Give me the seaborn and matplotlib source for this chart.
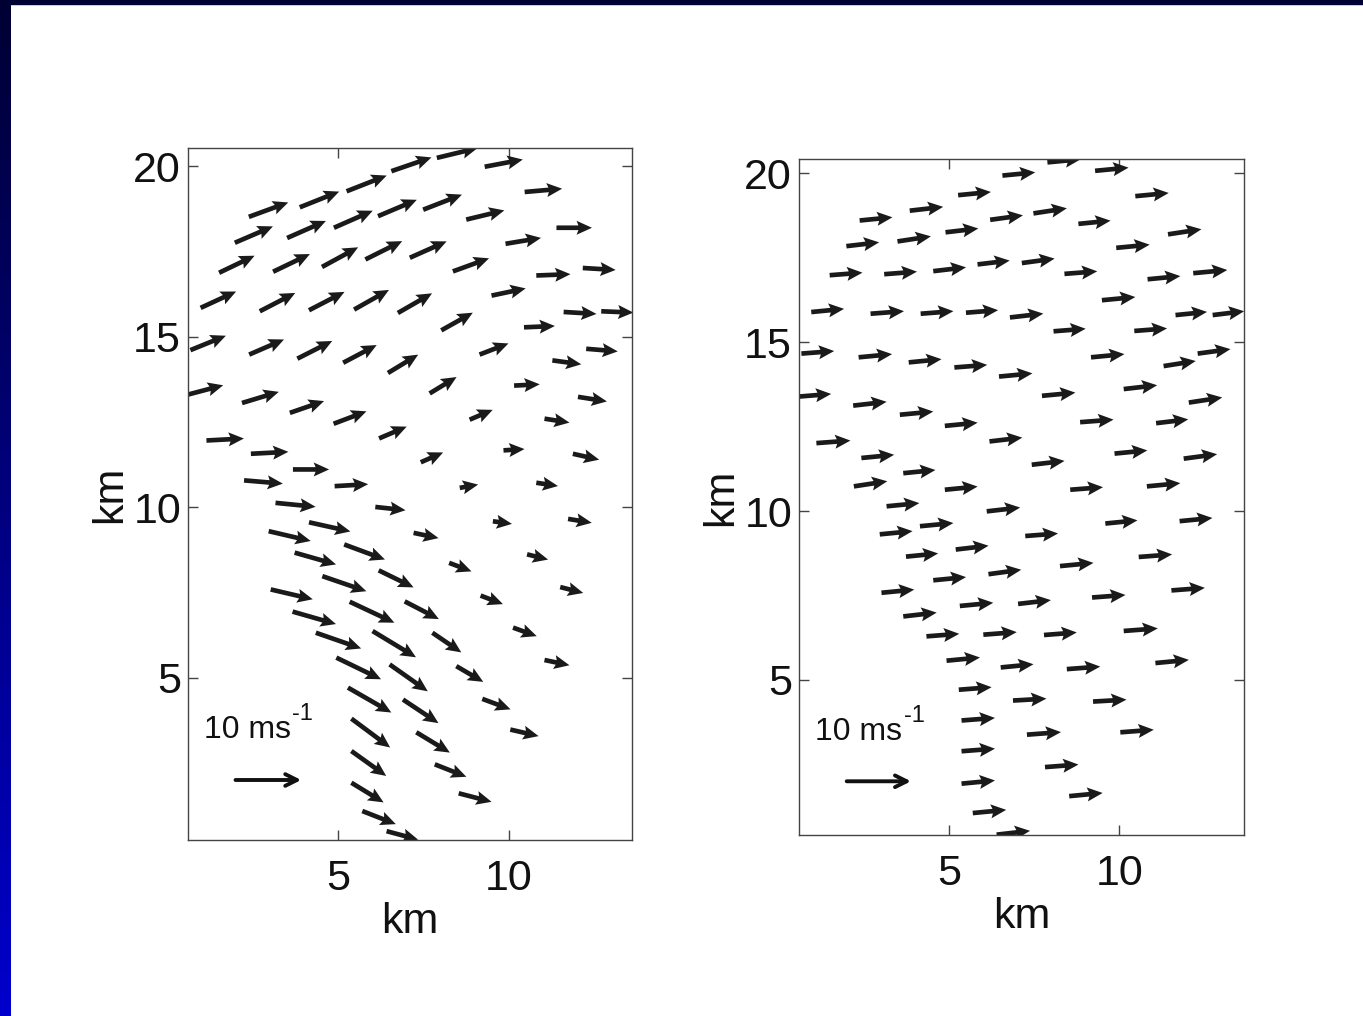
import numpy as np
import matplotlib
matplotlib.use("Agg")
import matplotlib.pyplot as plt
from matplotlib.patches import Rectangle
import seaborn as sns

# ---- data: positions in km, wind components in m/s ----
# left panel (total flow)
x_left = [6.56, 5.25, 3.88, 2.39, 6.17, 4.88, 3.51, 1.98, 5.80, 4.53, 3.10, 1.52, 0.98, 2.71, 4.15, 5.47,
          6.75, 0.68, 2.40, 3.81, 5.15, 6.46, 0.62, 2.19, 3.59, 4.87, 6.20, 1.15, 2.45, 3.68, 2.25, 4.90,
          7.89, 9.29, 10.46, 7.49, 8.75, 11.39, 9.90, 7.10, 8.36, 10.80, 12.16, 9.49, 11.60, 12.70, 8.02,
          10.44, 9.14, 12.26, 11.27, 7.68, 10.15, 12.02, 8.85, 11.04, 7.42, 9.84, 11.87, 8.56, 10.80,
          3.17, 6.09, 4.15, 2.97, 5.18, 3.73, 6.19, 4.54, 3.03, 5.34, 3.67, 6.01, 4.35, 4.95, 6.51, 5.29,
          6.90, 5.39, 5.39, 5.39, 5.71, 6.42,
          9.53, 11.73, 7.21, 10.53, 8.25, 11.50, 9.17, 6.95, 10.12, 7.76, 11.04, 8.46, 9.22, 10.04, 7.29,
          7.83, 8.53]
z_left = [19.86, 19.27, 18.80, 18.52, 18.54, 18.20, 17.90, 17.76, 17.27, 17.05, 16.91, 16.88, 15.85, 15.75,
          15.78, 15.80, 15.70, 14.61, 14.48, 14.36, 14.24, 13.94, 13.31, 13.06, 12.77, 12.45, 12.02, 11.96,
          11.57, 11.11, 10.79, 10.62,
          20.25, 19.99, 19.25, 18.73, 18.44, 18.20, 17.73, 17.32, 16.92, 16.80, 17.02, 16.21, 15.73, 15.75,
          15.19, 15.28, 14.48, 14.65, 14.31, 13.34, 13.57, 13.24, 12.57, 12.60, 11.32, 11.67, 11.57, 10.57,
          10.72,
          10.13, 10.01, 9.56, 9.30, 8.91, 8.67, 8.15, 7.98, 7.59, 7.23, 6.94, 6.37, 6.32, 5.59, 5.39, 4.71,
          4.36, 3.80, 2.85, 1.92, 1.09, 0.50,
          9.59, 9.66, 9.25, 8.62, 8.37, 7.66, 7.41, 7.24, 6.47, 6.32, 5.52, 5.34, 4.38, 3.48, 3.40, 2.46,
          1.61]
u_left = [6.1, 6.1, 6.0, 6.0, 5.9, 5.9, 5.9, 5.8, 5.6, 5.5, 5.6, 5.4, 5.4, 5.4, 5.4, 5.3,
          5.2, 5.4, 5.3, 5.3, 5.1, 4.6, 5.3, 5.6, 5.2, 5.0, 4.2, 5.7, 5.7, 5.5, 5.9, 5.1,
          6.2, 5.8, 5.7, 5.9, 5.8, 5.4, 5.4, 5.6, 5.5, 5.2, 5.0, 5.2, 5.0, 4.9, 4.8,
          4.7, 4.4, 4.8, 4.4, 4.1, 3.9, 4.4, 3.5, 3.8, 3.4, 3.2, 4.0, 2.8, 3.3,
          6.1, 4.6, 6.3, 6.4, 6.2, 6.3, 5.3, 6.7, 6.4, 6.8, 6.6, 6.6, 6.9, 6.8, 5.8, 6.6,
          5.4, 5.9, 5.3, 4.9, 5.1, 4.8,
          2.9, 3.6, 3.8, 3.2, 3.4, 3.5, 3.4, 5.2, 3.6, 4.4, 3.8, 4.1, 4.3, 4.3, 5.1, 4.8, 5.0]
w_left = [2.1, 2.4, 2.4, 2.2, 2.5, 2.6, 2.6, 2.5, 2.8, 3.0, 2.7, 2.6, 2.5, 2.8, 2.8, 3.0,
          3.0, 2.2, 2.3, 2.7, 2.7, 2.8, 1.4, 1.7, 1.8, 1.9, 1.8, 0.3, 0.3, 0.0, -0.5, 0.3,
          1.5, 1.1, 0.5, 2.3, 1.4, 0.0, 0.9, 2.5, 2.0, 0.2, -0.3, 1.1, -0.3, -0.2, 2.7,
          0.2, 1.7, -0.4, -0.6, 2.5, 0.2, -0.7, 1.5, -0.6, 1.5, 0.2, -0.9, 0.5, -0.5,
          -0.6, -0.5, -1.4, -1.5, -2.3, -1.8, -2.6, -2.3, -1.5, -3.2, -1.9, -4.0, -2.4, -3.3, -4.1, -3.8,
          -3.6, -4.4, -3.8, -3.0, -2.0, -1.3,
          -0.4, -0.6, -0.8, -0.8, -1.3, -0.9, -1.3, -2.7, -1.3, -3.0, -0.8, -2.4, -1.6, -1.0, -3.1, -1.9, -1.3]

# right panel
x_right = [6.57, 5.27, 3.85, 2.38, 6.21, 4.90, 3.49, 1.99, 5.84, 4.54, 3.10, 1.50, 0.96, 2.70, 4.17, 5.50,
           6.79, 0.67, 2.35, 3.82, 5.16, 6.47, 0.62, 2.19, 3.56, 4.88, 6.19, 1.11, 2.43, 3.66, 2.21, 4.88,
           7.89, 9.29, 10.47, 7.48, 8.80, 11.43, 9.91, 7.14, 8.39, 10.83, 12.17, 9.49, 11.65, 12.74, 8.07,
           10.44, 9.17, 12.30, 11.30, 10.13, 7.73, 12.04, 8.85, 11.08, 9.86, 11.89, 7.43, 8.56, 10.81,
           3.17, 6.11, 2.97, 4.15, 3.74, 5.20, 4.54, 6.16, 3.02, 5.32, 3.66, 7.03, 4.34, 6.01, 4.93, 6.52,
           5.29, 6.88, 5.37, 5.37, 5.37, 5.70, 6.40,
           9.59, 11.77, 7.24, 10.57, 8.26, 11.53, 9.20, 7.79, 10.13, 11.06, 8.46, 9.23, 7.29, 10.03, 7.82,
           8.53]
z_right = [19.93, 19.35, 18.89, 18.60, 18.62, 18.25, 17.98, 17.84, 17.30, 17.10, 17.01, 16.98, 15.89, 15.84,
           15.84, 15.87, 15.73, 14.66, 14.55, 14.40, 14.25, 13.98, 13.39, 13.12, 12.85, 12.52, 12.06, 12.01,
           11.57, 11.12, 10.73, 10.63,
           20.32, 20.07, 19.32, 18.81, 18.50, 18.19, 17.79, 17.34, 17.02, 16.86, 17.04, 16.24, 15.80, 15.80,
           15.32, 15.33, 14.55, 14.66, 14.29, 13.61, 13.41, 13.21, 12.63, 12.60, 11.70, 11.55, 11.37, 10.63,
           10.73,
           10.14, 9.99, 9.31, 9.55, 8.65, 8.86, 7.95, 8.13, 7.58, 7.19, 6.88, 7.25, 6.29, 6.34, 5.57, 5.37,
           4.71, 4.39, 3.80, 2.89, 1.93, 1.06, 0.42,
           9.63, 9.70, 9.26, 8.64, 8.37, 7.65, 7.44, 6.33, 6.45, 5.50, 5.32, 4.36, 3.38, 3.45, 2.42, 1.56]
u_right = [5.1, 5.1, 5.2, 5.1, 5.1, 5.1, 5.2, 5.1, 5.0, 5.1, 5.1, 5.1, 5.1, 5.2, 5.1, 5.0,
           5.2, 5.1, 5.2, 5.1, 5.1, 5.2, 4.9, 5.2, 5.2, 5.1, 5.1, 5.3, 5.1, 5.0, 5.2, 5.1,
           5.2, 5.2, 5.2, 5.2, 5.0, 5.2, 5.2, 5.1, 5.1, 5.1, 5.3, 5.2, 4.9, 4.9, 5.0,
           5.1, 5.2, 5.1, 5.0, 5.2, 5.2, 5.2, 5.2, 5.0, 5.1, 5.2, 5.1, 5.1, 5.2,
           5.1, 5.2, 5.1, 5.2, 5.0, 5.1, 5.1, 5.1, 5.1, 5.2, 5.2, 5.1, 5.1, 5.2, 5.2, 5.1,
           5.1, 5.2, 5.2, 5.2, 5.2, 5.2, 5.2,
           5.0, 5.1, 5.1, 5.2, 5.2, 5.2, 5.2, 5.1, 5.3, 5.2, 5.2, 5.2, 5.3, 5.2, 5.2, 5.2]
w_right = [0.5, 0.5, 0.6, 0.5, 0.7, 0.6, 0.8, 0.6, 0.6, 0.6, 0.4, 0.4, 0.5, 0.4, 0.4, 0.4,
           0.6, 0.4, 0.5, 0.5, 0.4, 0.5, 0.4, 0.6, 0.5, 0.5, 0.6, 0.4, 0.5, 0.5, 0.8, 0.5,
           0.5, 0.5, 0.5, 0.8, 0.5, 0.8, 0.5, 0.7, 0.4, 0.5, 0.5, 0.5, 0.5, 0.6, 0.4,
           0.4, 0.5, 0.7, 0.8, 0.6, 0.5, 0.8, 0.4, 0.6, 0.5, 0.7, 0.6, 0.4, 0.5,
           0.5, 0.6, 0.5, 0.5, 0.5, 0.6, 0.5, 0.7, 0.5, 0.5, 0.6, 0.6, 0.4, 0.4, 0.5, 0.5,
           0.4, 0.3, 0.4, 0.4, 0.5, 0.5, 0.6,
           0.5, 0.5, 0.4, 0.4, 0.5, 0.4, 0.4, 0.4, 0.4, 0.5, 0.4, 0.3, 0.4, 0.4, 0.4, 0.5]

ref_speed = 10          # m/s, reference arrow
ref_text = "10 ms"
ref_sup = "-1"
xticks = [5, 10]
yticks = [5, 10, 15, 20]

# ---- style ----
sns.set_theme(style="ticks")
plt.rcParams.update({
    "font.family": ["Liberation Sans", "DejaVu Sans"],
    "axes.edgecolor": "#444444",
    "axes.linewidth": 1.0,
    "xtick.color": "#444444",
    "ytick.color": "#444444",
    "xtick.labelcolor": "#111111",
    "ytick.labelcolor": "#111111",
    "text.color": "#111111",
    "axes.labelcolor": "#111111",
})

fig = plt.figure(figsize=(13.63, 10.16), dpi=100, facecolor="white")

# slide-style blue border (top band + left gradient strip)
strip = fig.add_axes([0, 0, 11 / 1363, 1])
grad = np.linspace(0, 1, 256)[:, None]
strip.imshow(grad, aspect="auto", extent=[0, 1, 0, 1], origin="upper",
             cmap=matplotlib.colors.LinearSegmentedColormap.from_list("edge", ["#000033", "#0000cc"]))
strip.set_axis_off()
fig.add_artist(Rectangle((0, 1 - 4 / 1016), 1, 4 / 1016, transform=fig.transFigure,
                         color="#000033", zorder=5))

panels = [
    dict(rect=[188 / 1363, 176 / 1016, 444 / 1363, 692 / 1016], xlim=(0.61, 13.6), ylim=(0.24, 20.54),
         x=x_left, z=z_left, u=u_left, w=w_left, scale=5.2),
    dict(rect=[799 / 1363, 181 / 1016, 445 / 1363, 676 / 1016], xlim=(0.6, 13.66), ylim=(0.41, 20.42),
         x=x_right, z=z_right, u=u_right, w=w_right, scale=5.3),
]

for p in panels:
    ax = fig.add_axes(p["rect"])
    ax.set_facecolor("white")
    ax.quiver(p["x"], p["z"], p["u"], p["w"], angles="xy", scale_units="xy", scale=p["scale"],
              color="#1a1a1a", width=0.0105, headwidth=3.0, headlength=3.3, headaxislength=2.9,
              pivot="tail", linewidth=0)

    # reference arrow + label
    x0, z0 = 2.0, 2.0
    ax.annotate("", xy=(x0 + ref_speed / p["scale"], z0), xytext=(x0, z0),
                arrowprops=dict(arrowstyle="->,head_length=0.7,head_width=0.35",
                                color="#111111", lw=2.8, shrinkA=0, shrinkB=0))
    t = ax.text(1.08, 3.22, ref_text, fontsize=23, ha="left", va="baseline")
    ax.annotate(ref_sup, xy=(1, 1), xycoords=t, xytext=(1, -7), textcoords="offset points",
                fontsize=17, ha="left", va="bottom")

    ax.set_xlim(*p["xlim"])
    ax.set_ylim(*p["ylim"])
    ax.set_xticks(xticks)
    ax.set_yticks(yticks)
    ax.tick_params(direction="in", top=True, right=True, length=7, width=1,
                   labelsize=31)
    ax.tick_params(axis="x", pad=14)
    ax.tick_params(axis="y", pad=5)
    ax.set_xlabel("km", fontsize=31, labelpad=2)
    ax.set_ylabel("km", fontsize=31, labelpad=2)
    for s in ax.spines.values():
        s.set_visible(True)

plt.savefig("out.png", dpi=100, facecolor="white")
plt.close()
